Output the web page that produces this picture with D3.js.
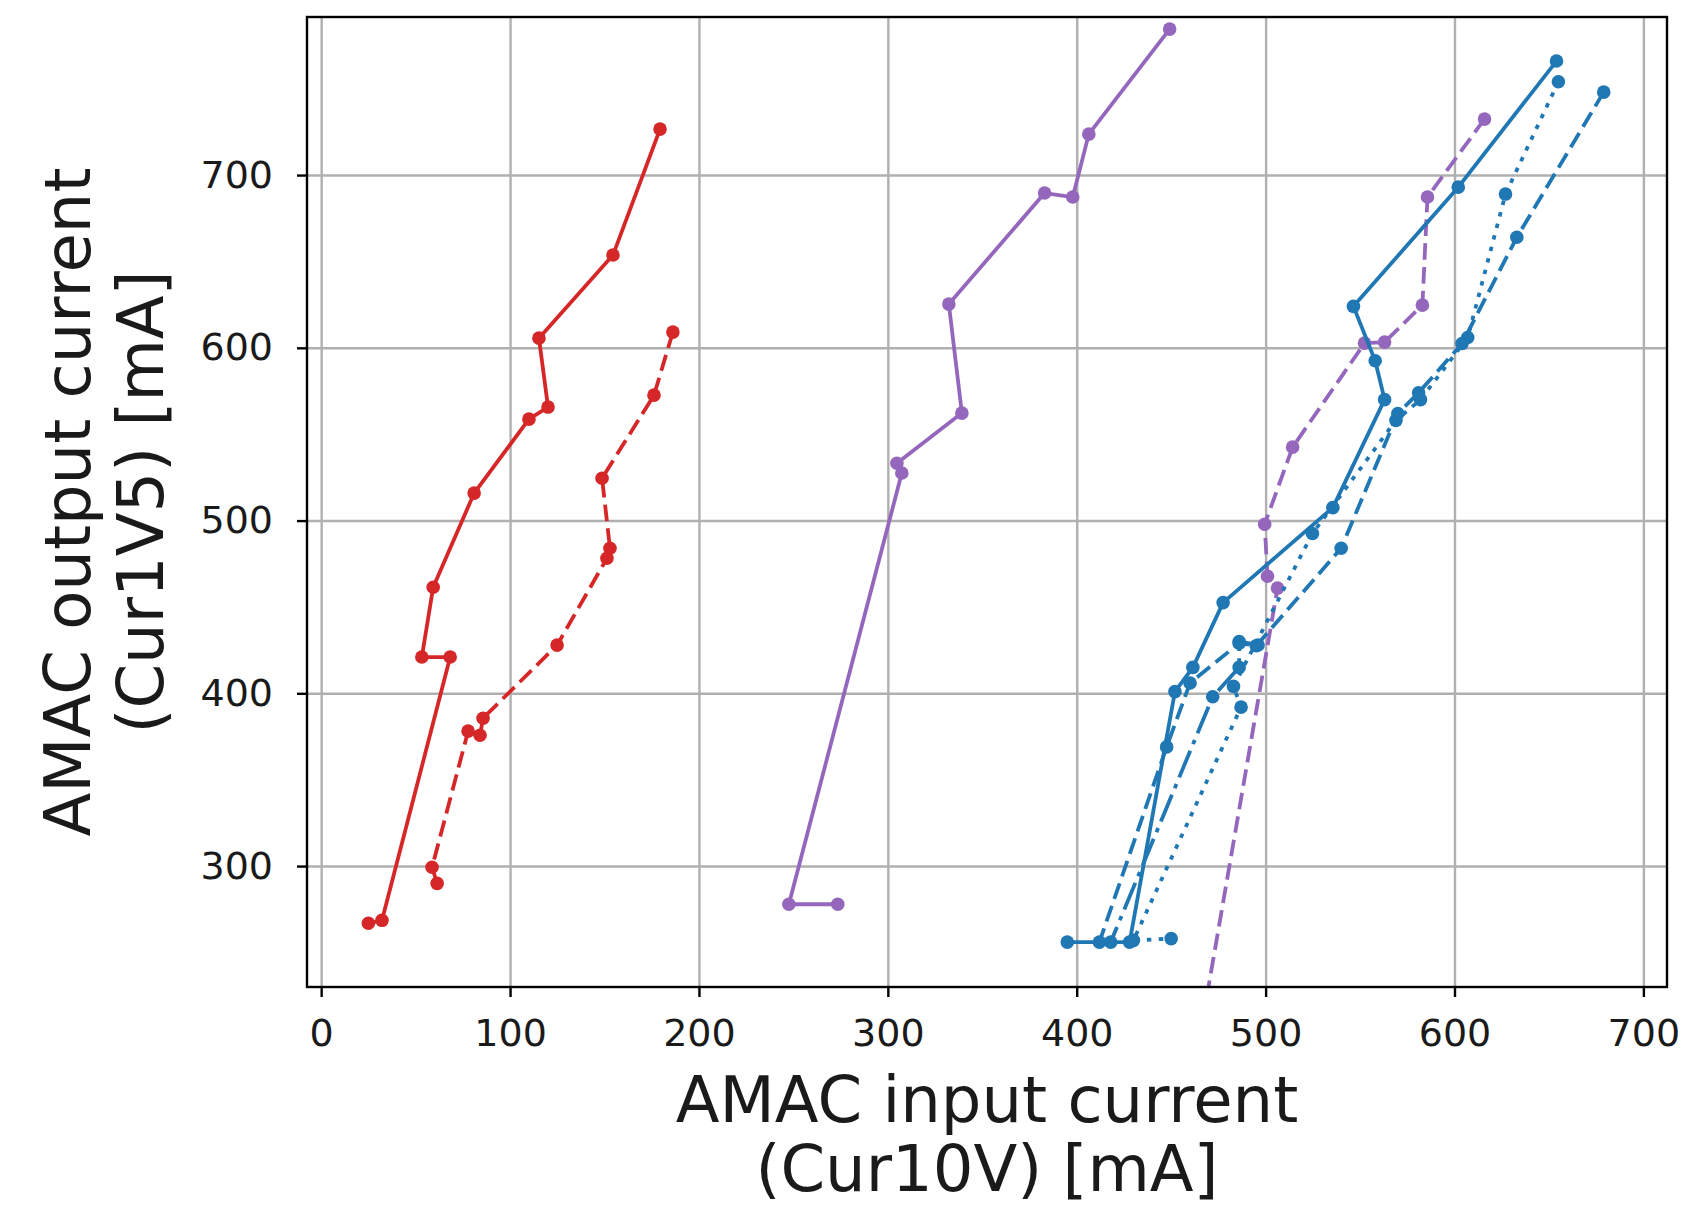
<!DOCTYPE html>
<html>
<head>
<meta charset="utf-8">
<script src="https://cdn.jsdelivr.net/npm/d3@7"></script>
<style>
  body { margin: 0; background: #fff; }
  text { font-family: "DejaVu Sans", sans-serif; fill: #1a1a1a; }
</style>
</head>
<body>
<svg id="chart"></svg>
<script>
// tick values
const xTicks = [0, 100, 200, 300, 400, 500, 600, 700];
const yTicks = [300, 400, 500, 600, 700];

// red, solid
const redSolidX = [179.4, 154.5, 115.3, 120.1, 110, 81, 59.3, 53.3, 68.3, 32.2, 25];
const redSolidY = [726.6, 653.7, 605.6, 565.7, 558.7, 515.9, 461.4, 421, 421, 268.6, 266.9];
// red, dashed
const redDashX = [186.2, 176.2, 148.7, 152.9, 151.3, 124.9, 85.7, 84.1, 77.8, 58.7, 61.4];
const redDashY = [609.1, 572.6, 524.5, 484, 478.2, 427.9, 385.6, 375.7, 378.1, 299.3, 290];
// purple, solid
const purpSolidX = [449.2, 406.4, 397.9, 383, 332.3, 339.2, 304.8, 307.4, 247.6, 273.5];
const purpSolidY = [784.5, 723.7, 687.3, 689.6, 625.3, 562.2, 533.2, 527.5, 277.9, 277.9];
// purple, dashed (last point lies below the axes)
const purpDashX = [615.9, 585.7, 583, 563, 552.4, 514.3, 499.5, 501, 506.3, 465];
const purpDashY = [732.4, 687.3, 624.7, 603.3, 602.7, 542.5, 497.9, 467.8, 460.9, 200];
// blue, solid
const blueSolidX = [654, 602, 546.5, 558, 563, 535.6, 477.5, 461.5, 452, 428, 395];
const blueSolidY = [766, 693, 624, 592.5, 570, 507.5, 452.5, 415, 401, 256, 256];
// blue, dotted
const blueDotX = [655, 627, 607, 582, 569, 524.8, 483, 487, 430, 450];
const blueDotY = [754, 689, 606, 570, 558, 492.5, 404, 392, 257, 258];
// blue, dashed
const blueDashX = [679, 633, 604, 581, 570, 540, 495, 486, 460, 447.6, 412];
const blueDashY = [748, 664, 602.5, 574, 562, 484, 427.5, 429, 406, 369, 256];
// blue, dash-dot
const blueDashDotX = [496, 486, 486, 472, 418];
const blueDashDotY = [428, 430, 415, 398, 256];

const W = 1691, H = 1211;
const mLeft = 307, mRight = 1667, mTop = 17, mBottom = 987;

const svg = d3.select("#chart").attr("width", W).attr("height", H);
svg.append("rect").attr("width", W).attr("height", H).attr("fill", "#fff");

const x = d3.scaleLinear().domain([-7.5, 712.5]).range([mLeft, mRight]);
const y = d3.scaleLinear().domain([230, 791.5]).range([mBottom, mTop]);

// grid
svg.append("g")
  .attr("transform", `translate(0,${mBottom})`)
  .call(d3.axisBottom(x).tickValues(xTicks).tickSize(-(mBottom - mTop)).tickFormat(""))
  .call(g => g.select(".domain").remove())
  .call(g => g.selectAll("line").attr("stroke", "#b0b0b0").attr("stroke-width", 2.4));
svg.append("g")
  .attr("transform", `translate(${mLeft},0)`)
  .call(d3.axisLeft(y).tickValues(yTicks).tickSize(-(mRight - mLeft)).tickFormat(""))
  .call(g => g.select(".domain").remove())
  .call(g => g.selectAll("line").attr("stroke", "#b0b0b0").attr("stroke-width", 2.4));

// series
svg.append("clipPath").attr("id", "clip")
  .append("rect").attr("x", mLeft).attr("y", mTop).attr("width", mRight - mLeft).attr("height", mBottom - mTop);

const series = [
  { xs: redSolidX, ys: redSolidY, color: "#d62728", dash: null },
  { xs: redDashX, ys: redDashY, color: "#d62728", dash: "16.6,7.2" },
  { xs: purpSolidX, ys: purpSolidY, color: "#9467bd", dash: null },
  { xs: purpDashX, ys: purpDashY, color: "#9467bd", dash: "16.6,7.2" },
  { xs: blueSolidX, ys: blueSolidY, color: "#1f77b4", dash: null },
  { xs: blueDotX, ys: blueDotY, color: "#1f77b4", dash: "4.5,7.4" },
  { xs: blueDashX, ys: blueDashY, color: "#1f77b4", dash: "16.6,7.2" },
  { xs: blueDashDotX, ys: blueDashDotY, color: "#1f77b4", dash: "28.8,7.2,4.5,7.2" }
];

const line = d3.line().x(d => x(d[0])).y(d => y(d[1]));
const plot = svg.append("g").attr("clip-path", "url(#clip)");

series.forEach(s => {
  const pts = s.xs.map((v, i) => [v, s.ys[i]]);
  plot.append("path")
    .datum(pts)
    .attr("d", line)
    .attr("fill", "none")
    .attr("stroke", s.color)
    .attr("stroke-width", 3.8)
    .attr("stroke-linejoin", "round")
    .attr("stroke-dasharray", s.dash);
  plot.selectAll(null)
    .data(pts)
    .enter()
    .append("circle")
    .attr("cx", d => x(d[0]))
    .attr("cy", d => y(d[1]))
    .attr("r", 6.8)
    .attr("fill", s.color);
});

// axes
const xAxis = svg.append("g")
  .attr("transform", `translate(0,${mBottom})`)
  .call(d3.axisBottom(x).tickValues(xTicks).tickSize(10).tickPadding(22));
const yAxis = svg.append("g")
  .attr("transform", `translate(${mLeft},0)`)
  .call(d3.axisLeft(y).tickValues(yTicks).tickSize(10).tickPadding(24));
[xAxis, yAxis].forEach(g => {
  g.select(".domain").remove();
  g.selectAll("line").attr("stroke", "#000").attr("stroke-width", 2.4);
  g.selectAll("text").style("font-size", "38px").attr("fill", "#222")
    .style("font-family", "DejaVu Sans, sans-serif");
});

// frame
svg.append("rect")
  .attr("x", mLeft).attr("y", mTop)
  .attr("width", mRight - mLeft).attr("height", mBottom - mTop)
  .attr("fill", "none").attr("stroke", "#000").attr("stroke-width", 2.4);

// labels
const xl = svg.append("text").attr("text-anchor", "middle").style("font-size", "64px");
xl.append("tspan").attr("x", (mLeft + mRight) / 2).attr("y", 1122).text("AMAC input current");
xl.append("tspan").attr("x", (mLeft + mRight) / 2).attr("y", 1191).text("(Cur10V) [mA]");

const yl = svg.append("text").attr("text-anchor", "middle").style("font-size", "64px")
  .attr("transform", `translate(0,${(mTop + mBottom) / 2}) rotate(-90)`);
yl.append("tspan").attr("x", 0).attr("y", 90).text("AMAC output current");
yl.append("tspan").attr("x", 0).attr("y", 163).text("(Cur1V5) [mA]");
</script>
</body>
</html>
